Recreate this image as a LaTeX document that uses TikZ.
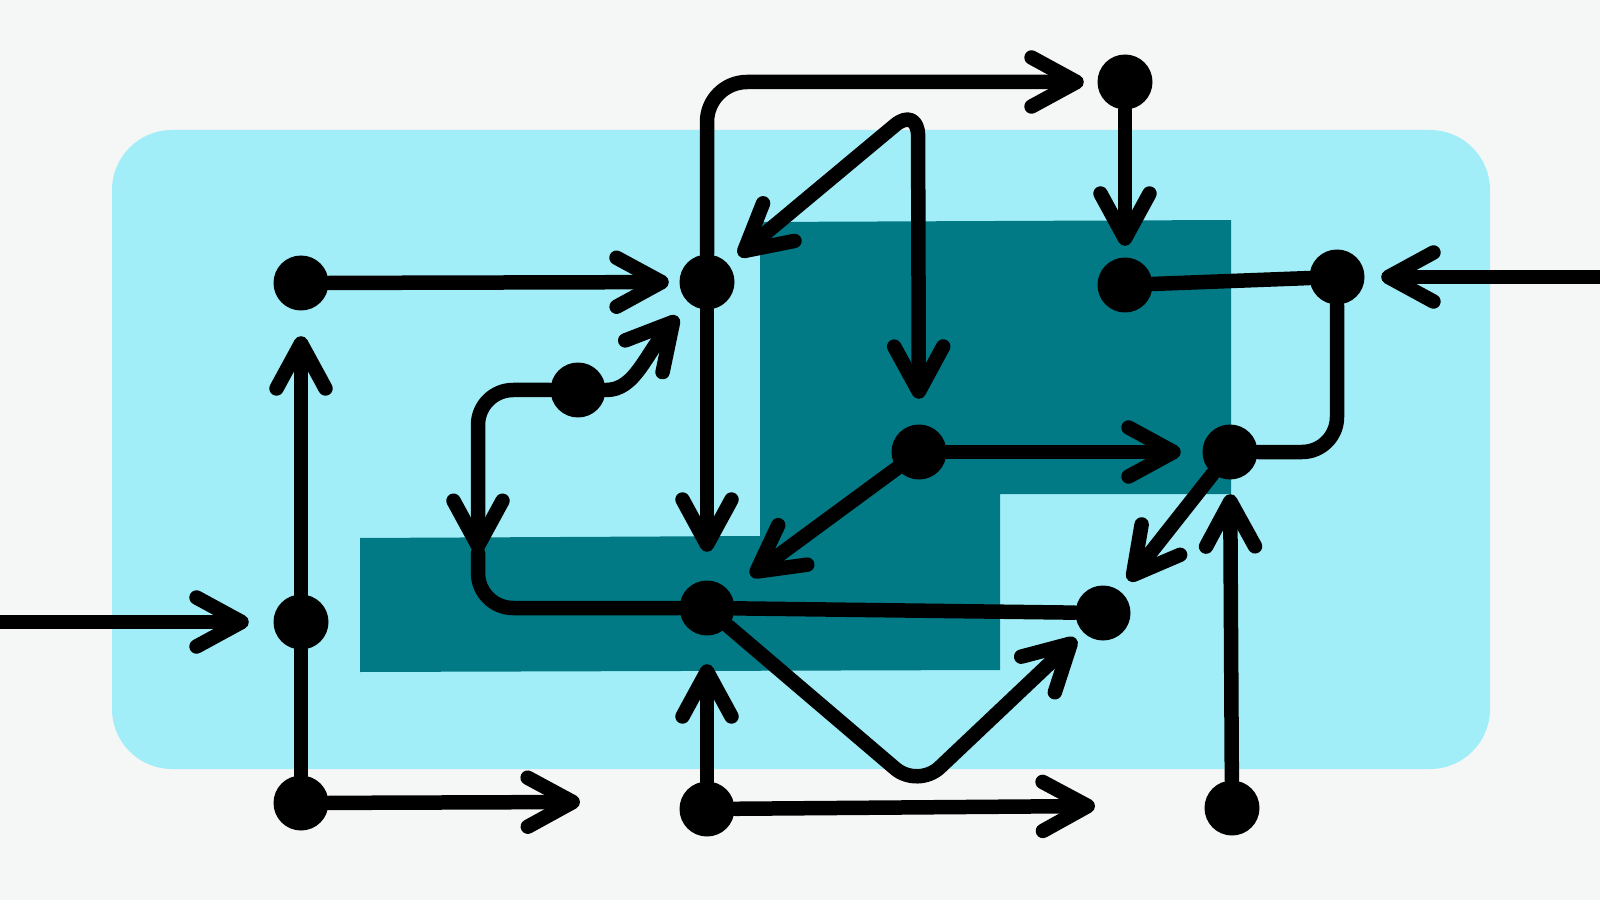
\documentclass[tikz,border=0pt]{standalone}
\usepackage{tikz}
\usetikzlibrary{arrows.meta}

\definecolor{paper}{HTML}{F5F6F6}
\definecolor{pool}{HTML}{A1EEF8}
\definecolor{deep}{HTML}{027A85}

\begin{document}
\begin{tikzpicture}[x=0.1mm, y=-0.1mm,
  dot/.style={circle, fill=black, inner sep=0pt, minimum size=5.5mm},
  wire/.style={line width=1.45mm, line cap=round, line join=round},
  arrow/.style={wire, -{Straight Barb[length=4.5mm, width=4.9mm, round]}},
  biarrow/.style={wire, {Straight Barb[length=4.5mm, width=4.9mm, round]}-{Straight Barb[length=4.5mm, width=4.9mm, round]}}
]
\useasboundingbox (0,0) rectangle (1600,900);
\fill[paper] (0,0) rectangle (1600,900);
\fill[pool, rounded corners=6mm] (112,130) rectangle (1490,769);
\fill[deep] (760,222) -- (1231,220) -- (1231,494) -- (1000,494) -- (1000,670) -- (360,672) -- (360,538) -- (760,536) -- cycle;

\node[dot] (a) at (301,283) {};
\node[dot] (b) at (707,282) {};
\node[dot] (c) at (1125,82) {};
\node[dot] (d) at (1125,285) {};
\node[dot] (e) at (1337,277) {};
\node[dot] (f) at (578,390) {};
\node[dot] (g) at (919,452) {};
\node[dot] (h) at (1230,452) {};
\node[dot] (i) at (301,622) {};
\node[dot] (j) at (707,608) {};
\node[dot] (k) at (1103,613) {};
\node[dot] (l) at (301,803) {};
\node[dot] (m) at (707,809) {};
\node[dot] (n) at (1232,808) {};

\coordinate (west) at (0,622);
\coordinate (east) at (1600,277);
\coordinate (apex) at (918,106);
\coordinate (dip) at (918,788);
\coordinate (drop) at (478,553);
\coordinate (lout) at (580,802);
\coordinate (mout) at (1095,806);

\draw[arrow, shorten >=1mm] (a) -- (b);
\draw[arrow, rounded corners=4mm, shorten >=1.3mm] (b) |- (c);
\draw[arrow, shorten >=1.1mm] (c) -- (d);
\draw[biarrow, rounded corners=3mm, shorten <=1.3mm, shorten >=2.5mm] (b) -- (apex) -- (g);
\draw[wire] (d) -- (e);
\draw[arrow, shorten >=1.6mm] (east) -- (e);
\draw[wire, rounded corners=3.5mm] (e) |- (h);
\draw[arrow, shorten >=2.1mm] (g) -- (h);
\draw[arrow, shorten >=1.7mm] (f) .. controls (635,390) and (645,355) .. (b);
\draw[arrow, rounded corners=3.5mm] (f) -| (drop);
\draw[wire, rounded corners=3.5mm] (drop) |- (j);
\draw[arrow, shorten >=2.8mm] (b) -- (j);
\draw[arrow, shorten >=2.6mm] (g) -- (j);
\draw[wire] (j) -- (k);
\draw[arrow, rounded corners=3mm, shorten >=0.9mm] (j) -- (dip) -- (k);
\draw[arrow, shorten >=1.3mm] (h) -- (k);
\draw[arrow, shorten >=1.4mm] (n) -- (h);
\draw[arrow, shorten >=2.5mm] (i) -- (a);
\draw[arrow, shorten >=2.4mm] (west) -- (i);
\draw[wire] (i) -- (l);
\draw[arrow] (l) -- (lout);
\draw[arrow] (m) -- (mout);
\draw[arrow, shorten >=2.8mm] (m) -- (j);
\end{tikzpicture}
\end{document}
